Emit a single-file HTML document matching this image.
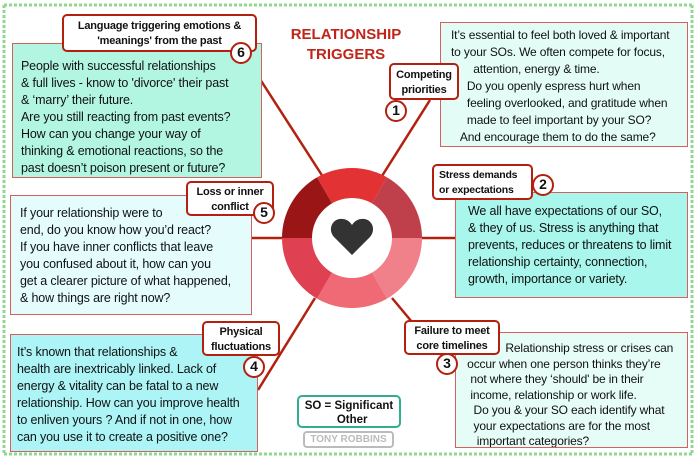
<!DOCTYPE html>
<html><head><meta charset="utf-8"><style>
body{margin:0;width:700px;height:461px;background:#fff;position:relative;overflow:hidden;font-family:"Liberation Sans",sans-serif;color:#111}
.b{position:absolute;border:1.5px solid #d46060;box-sizing:border-box;font-size:12px;line-height:17px;letter-spacing:-0.15px;white-space:pre;overflow:hidden}
.l{position:absolute;background:#fff;border:2.5px solid #b3200f;border-radius:5px;box-sizing:border-box;font-weight:bold;font-size:11px;line-height:15px;text-align:center;letter-spacing:-0.2px;white-space:nowrap}
.c{position:absolute;width:22px;height:22px;border:2.5px solid #b3200f;border-radius:50%;background:#fff;box-sizing:border-box;font-size:14px;line-height:17px;text-align:center;font-weight:bold}
</style></head><body>
<svg width="700" height="461" style="position:absolute;left:0;top:0">
<g fill="none" stroke="#8fd88f" stroke-width="3" stroke-dasharray="3 2">
<line x1="4" y1="5" x2="692" y2="5"/><line x1="4" y1="5" x2="4" y2="454"/><line x1="4" y1="454" x2="692" y2="454"/><line x1="692" y1="5" x2="692" y2="454"/></g>
<g stroke="#b3200f" stroke-width="2.5">
<line x1="258" y1="76" x2="325" y2="180"/>
<line x1="430" y1="100" x2="382" y2="176"/>
<line x1="418" y1="238" x2="456" y2="238"/>
<line x1="250" y1="238" x2="286" y2="238"/>
<line x1="258" y1="390" x2="315" y2="298"/>
<line x1="392" y1="298" x2="412" y2="322"/>
</g>
<g transform="translate(352,238)">
<path d="M0 0 L-35 -60.6 A70 70 0 0 1 35 -60.6Z" fill="#e23234"/>
<path d="M0 0 L35 -60.6 A70 70 0 0 1 70 0Z" fill="#bf404b"/>
<path d="M0 0 L70 0 A70 70 0 0 1 35 60.6Z" fill="#f0808a"/>
<path d="M0 0 L35 60.6 A70 70 0 0 1 -35 60.6Z" fill="#ef6a74"/>
<path d="M0 0 L-35 60.6 A70 70 0 0 1 -70 0Z" fill="#e04152"/>
<path d="M0 0 L-70 0 A70 70 0 0 1 -35 -60.6Z" fill="#9a1515"/>
<circle r="40" fill="#fff"/>
<path d="M0 17 L-18 -1 C-25 -9 -19 -20 -10 -19 C-5 -19 -2 -16 0 -13 C2 -16 5 -19 10 -19 C19 -20 25 -9 18 -1Z" fill="#333"/>
</g>
</svg>
<div style="position:absolute;left:280px;top:25px;width:132px;text-align:center;color:#c0251a;font-weight:bold;font-size:15px;line-height:20px">RELATIONSHIP<br>TRIGGERS</div>

<div class="b" style="left:12px;top:43px;width:250px;height:135px;background:#b2f6e1;padding:14px 0 0 8px;font-size:12.5px">People with successful relationships
&amp; full lives - know to 'divorce' their past
&amp; ‘marry’ their future.
Are you still reacting from past events?
How can you change your way of
thinking &amp; emotional reactions, so the
past doesn’t poison present or future?</div>
<div class="l" style="left:62px;top:14px;width:195px;height:38px;padding-top:3px">Language triggering emotions &amp;<br>'meanings' from the past</div>
<div class="c" style="left:230px;top:42px">6</div>

<div class="b" style="left:440px;top:22px;width:248px;height:125px;background:#e3fdf6;padding:4px 0 0 10px">It’s essential to feel both loved &amp; important
to your SOs. We often compete for focus,
       attention, energy &amp; time.
     Do you openly espress hurt when
     feeling overlooked, and gratitude when
     made to feel important by your SO?
   And encourage them to do the same?</div>
<div class="l" style="left:389px;top:63px;width:70px;height:37px;padding-top:3px">Competing<br>priorities</div>
<div class="c" style="left:385px;top:100px">1</div>

<div class="b" style="left:455px;top:192px;width:233px;height:106px;background:#a9f6ec;padding:10px 0 0 12px;font-size:12.5px">We all have expectations of our SO,
&amp; they of us. Stress is anything that
prevents, reduces or threatens to limit
relationship certainty, connection,
growth, importance or variety.</div>
<div class="l" style="left:432px;top:164px;width:101px;height:36px;padding-top:2px;text-align:left;padding-left:5px;font-size:10.5px">Stress demands<br>or expectations</div>
<div class="c" style="left:532px;top:174px">2</div>

<div class="b" style="left:10px;top:195px;width:242px;height:120px;background:#e4fcfc;padding:9px 0 0 9px;font-size:12.5px">If your relationship were to
end, do you know how you’d react?
If you have inner conflicts that leave
you confused about it, how can you
get a clearer picture of what happened,
&amp; how things are right now?</div>
<div class="l" style="left:186px;top:181px;width:88px;height:35px;padding-top:2px">Loss or inner<br>conflict</div>
<div class="c" style="left:253px;top:202px">5</div>

<div class="b" style="left:10px;top:334px;width:248px;height:118px;background:#acf4f6;padding:9px 0 0 6px;font-size:12.5px">It’s known that relationships &amp;
health are inextricably linked. Lack of
energy &amp; vitality can be fatal to a new
relationship. How can you improve health
to enliven yours ? And if not in one, how
can you use it to create a positive one?</div>
<div class="l" style="left:202px;top:321px;width:78px;height:35px;padding-top:2px">Physical<br>fluctuations</div>
<div class="c" style="left:243px;top:356px">4</div>

<div class="b" style="left:455px;top:332px;width:233px;height:116px;background:#e6fcf7;padding:8px 0 0 8px;font-size:12px;line-height:15.5px">             Relationship stress or crises can
 occur when one person thinks they’re
  not where they ‘should' be in their
  income, relationship or work life.
   Do you &amp; your SO each identify what
   your expectations are for the most
    important categories?</div>
<div class="l" style="left:404px;top:320px;width:96px;height:35px;padding-top:2px">Failure to meet<br>core timelines</div>
<div class="c" style="left:436px;top:353px">3</div>

<div style="position:absolute;left:297px;top:395px;width:104px;height:33px;border:2px solid #2fae92;border-radius:5px;box-sizing:border-box;font-weight:bold;font-size:11.5px;line-height:14px;text-align:center;padding-top:2px">SO = Significant<br>&nbsp;&nbsp;Other</div>
<div style="position:absolute;left:303px;top:431px;width:91px;height:17px;border:2px solid #bbb;border-radius:4px;box-sizing:border-box;font-weight:bold;font-size:10px;line-height:13px;text-align:center;color:#bbb">TONY ROBBINS</div>
</body></html>
